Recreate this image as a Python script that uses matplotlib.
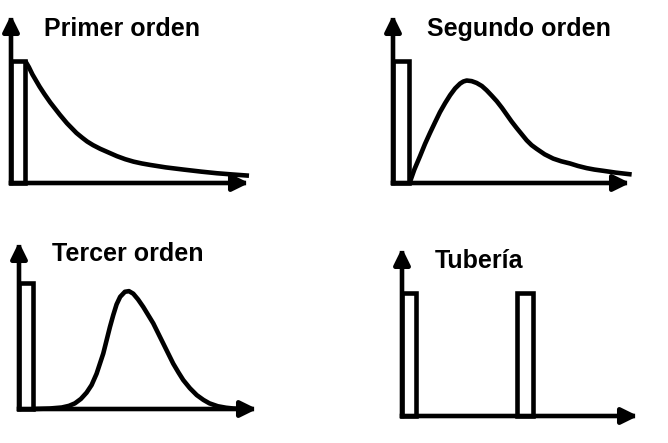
import matplotlib
matplotlib.use("Agg")
import matplotlib.pyplot as plt

# residence-time response curves (arbitrary units, pulse height = 1)
titles = ["Primer orden", "Segundo orden", "Tercer orden", "Tubería"]

# input pulses: (start, width) for each panel
pulses_1 = [(0.0, 0.6)]
pulses_2 = [(0.0, 0.67)]
pulses_3 = [(0.0, 0.6)]
pulses_4 = [(0.0, 0.6), (4.87, 0.68)]

# response curves
t_1 = [0.6, 0.75, 0.9, 1.05, 1.2, 1.4, 1.65, 1.85, 2.05, 2.35, 2.55, 2.75, 3.0, 3.2,
       3.45, 3.75, 4.1, 4.45, 4.8, 5.15, 5.5, 5.85, 6.5, 7.25, 8.0, 8.65, 9.3, 10.0]
c_1 = [1.0, 0.95, 0.89, 0.84, 0.79, 0.73, 0.66, 0.61, 0.56, 0.49, 0.45, 0.41, 0.37, 0.34,
       0.31, 0.28, 0.25, 0.22, 0.195, 0.175, 0.16, 0.148, 0.128, 0.11, 0.093, 0.08, 0.07, 0.06]

t_2 = [0.7, 0.9, 1.14, 1.35, 1.56, 1.78, 1.98, 2.2, 2.41, 2.62, 2.83, 2.97, 3.11, 3.32,
       3.53, 3.75, 3.95, 4.17, 4.38, 4.6, 4.8, 5.0, 5.22, 5.43, 5.64, 5.85, 6.06, 6.4,
       6.76, 7.1, 7.47, 7.8, 8.17, 8.5, 8.87, 9.4, 10.07]
c_2 = [0.0, 0.11, 0.22, 0.32, 0.41, 0.50, 0.58, 0.655, 0.72, 0.775, 0.815, 0.832, 0.84, 0.835,
       0.82, 0.795, 0.76, 0.715, 0.67, 0.615, 0.56, 0.505, 0.45, 0.40, 0.35, 0.31, 0.28, 0.235,
       0.20, 0.178, 0.16, 0.14, 0.122, 0.11, 0.10, 0.085, 0.07]

t_3 = [0.6, 1.3, 1.8, 2.1, 2.35, 2.6, 2.84, 3.05, 3.26, 3.4, 3.54, 3.68, 3.82, 3.96, 4.1,
       4.25, 4.45, 4.62, 4.8, 5.0, 5.22, 5.43, 5.64, 5.85, 6.06, 6.27, 6.48, 6.7, 6.9,
       7.18, 7.47, 7.75, 8.0, 8.35, 8.7, 9.0, 9.4]
c_3 = [0.0, 0.004, 0.012, 0.025, 0.045, 0.08, 0.13, 0.19, 0.28, 0.36, 0.44, 0.545, 0.65, 0.745, 0.83,
       0.89, 0.93, 0.935, 0.915, 0.87, 0.81, 0.745, 0.68, 0.60, 0.52, 0.44, 0.36, 0.29, 0.23,
       0.165, 0.11, 0.072, 0.045, 0.022, 0.01, 0.004, 0.0]

t_4 = []
c_4 = []

# panel layout in pixels: (left, bottom, width, height, ymax)
W, H = 668, 443
boxes = [(11, 260, 238, 168, 1.377),
         (393, 260, 237, 168, 1.377),
         (19, 34, 238, 167, 1.325),
         (402, 27, 236, 168, 1.366)]
# title centres (x) and baselines (y from top), pixels
title_pos = [(122, 36), (519, 36), (128, 261), (479, 268)]

lw = 3.3
fig = plt.figure(figsize=(W / 100, H / 100), dpi=100)

panels = [(pulses_1, t_1, c_1), (pulses_2, t_2, c_2),
          (pulses_3, t_3, c_3), (pulses_4, t_4, c_4)]

for (pulses, t, c), (l, b, w, h, ymax), title, (tx, ty) in zip(panels, boxes, titles, title_pos):
    ax = fig.add_axes([l / W, b / H, w / W, h / H])
    ax.set_xlim(0, 10)
    ax.set_ylim(0, ymax)
    ax.axis("off")

    for start, width in pulses:
        ax.bar(start, 1.0, width=width, align="edge", fill=False,
               edgecolor="black", linewidth=lw, joinstyle="miter",
               clip_on=False, zorder=3)
    if t:
        ax.plot(t, c, color="black", lw=lw, solid_capstyle="butt",
                solid_joinstyle="round", clip_on=False, zorder=3)

    arrow = dict(arrowstyle="-|>,head_length=0.65,head_width=0.32", lw=lw,
                 color="black", mutation_scale=15, shrinkA=0, shrinkB=0,
                 capstyle="projecting")
    ax.annotate("", xy=(1, 0), xytext=(0, 0), xycoords="axes fraction",
                arrowprops=arrow, zorder=4)
    ax.annotate("", xy=(0, 1), xytext=(0, 0), xycoords="axes fraction",
                arrowprops=arrow, zorder=4)

    fig.text(tx / W, 1 - ty / H, title, ha="center", va="baseline",
             fontsize=18, fontweight="bold", family="Liberation Sans")

fig.savefig("out.png", dpi=100)
